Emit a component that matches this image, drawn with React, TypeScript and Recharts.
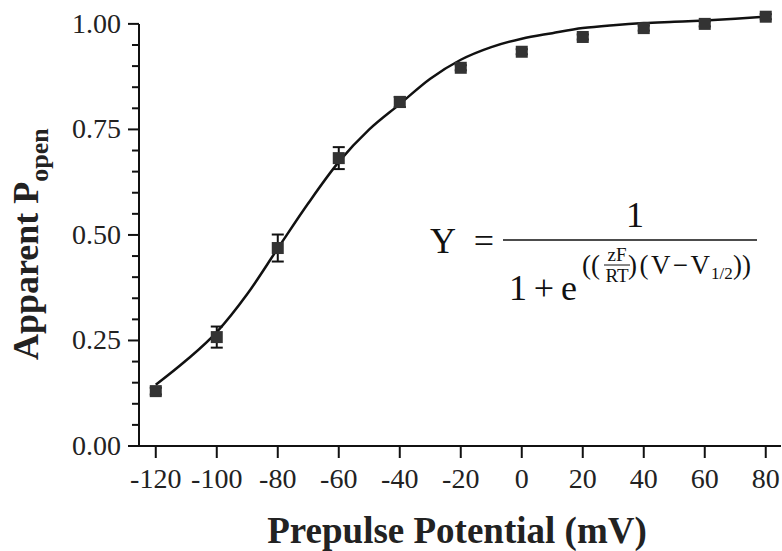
import React from 'react';
import { ComposedChart, Line, Scatter, ErrorBar, XAxis, YAxis, ReferenceLine } from 'recharts';

// measured points (mean +/- error)
const potentials = [-120, -100, -80, -60, -40, -20, 0, 20, 40, 60, 80];
const pOpen = [0.13, 0.258, 0.469, 0.682, 0.815, 0.896, 0.934, 0.969, 0.99, 1.0, 1.017];
const pErr = [0.008, 0.025, 0.032, 0.026, 0.012, 0.006, 0.006, 0.006, 0.006, 0.006, 0.006];

// fitted curve
const fitV = [-120, -110, -100, -90, -80, -70, -60, -50, -40, -30, -20, -10, 0, 10, 20, 30, 40, 50, 60, 70, 80];
const fitP = [0.145, 0.203, 0.27, 0.36, 0.468, 0.575, 0.673, 0.75, 0.81, 0.87, 0.915, 0.945, 0.965, 0.978, 0.99, 0.997, 1.002, 1.005, 1.008, 1.012, 1.017];

const xTicks = [-120, -100, -80, -60, -40, -20, 0, 20, 40, 60, 80];
const yTicks = [0, 0.05, 0.1, 0.15, 0.2, 0.25, 0.3, 0.35, 0.4, 0.45, 0.5, 0.55, 0.6, 0.65, 0.7, 0.75, 0.8, 0.85, 0.9, 0.95, 1.0];

const points = potentials.map((v, i) => ({ v, p: pOpen[i], err: pErr[i] }));
const curve = fitV.map((v, i) => ({ v, p: fitP[i] }));

const SERIF = '"Liberation Serif", "DejaVu Serif", serif';
const Y_AXIS_W = 139;
const X_MIN = -125.5;

const renderYTick = (props: any) => {
	const { y, payload, index } = props;
	const v = payload.value as number;
	const major = Math.abs(v * 4 - Math.round(v * 4)) < 1e-6;
	return (
		<g key={`yt-${index}`}>
			<line x1={Y_AXIS_W - (major ? 11 : 7)} x2={Y_AXIS_W} y1={y} y2={y} stroke='#111' strokeWidth={2} />
			{major && (
				<text x={Y_AXIS_W - 18} y={y} dy={9} textAnchor='end' fontFamily={SERIF} fontSize={28} fill='#222'>
					{v.toFixed(2)}
				</text>
			)}
		</g>
	);
};

const Square = (props: any) => {
	const { cx, cy } = props;
	return <rect x={cx - 6} y={cy - 6} width={12} height={12} fill='#333' />;
};

export default function App() {
	return (
		<div style={{ position: 'absolute', left: 0, top: 0, width: 782, height: 551, background: '#fff' }}>
			<ComposedChart width={782} height={551} margin={{ top: 7, right: 1, left: 0, bottom: 0 }}>
				<XAxis
					dataKey='v'
					type='number'
					domain={[X_MIN, 85]}
					ticks={xTicks}
					height={105}
					tickSize={12}
					tickMargin={10}
					axisLine={{ stroke: '#111', strokeWidth: 2 }}
					tickLine={{ stroke: '#111', strokeWidth: 2 }}
					tick={{ fontFamily: SERIF, fontSize: 28, fill: '#222' }}
					allowDataOverflow
				/>
				<YAxis
					dataKey='p'
					type='number'
					domain={[0, 1.04]}
					ticks={yTicks}
					width={Y_AXIS_W}
					axisLine={false}
					tickLine={false}
					tick={renderYTick}
					interval={0}
					allowDataOverflow
				/>
				<ReferenceLine
					segment={[
						{ x: X_MIN, y: 0 },
						{ x: X_MIN, y: 1 },
					]}
					stroke='#111'
					strokeWidth={2}
				/>
				<Line
					data={curve}
					dataKey='p'
					type='monotone'
					stroke='#111'
					strokeWidth={2.5}
					dot={false}
					activeDot={false}
					isAnimationActive={false}
				/>
				<Scatter data={points} dataKey='p' shape={<Square />} isAnimationActive={false}>
					<ErrorBar dataKey='err' direction='y' width={6} stroke='#111' strokeWidth={2} />
				</Scatter>
			</ComposedChart>
			<svg width={782} height={551} style={{ position: 'absolute', left: 0, top: 0, pointerEvents: 'none' }}>
				<text transform='translate(38, 360) rotate(-90)' fontFamily={SERIF} fontWeight='bold' fontSize={36} fill='#222'>
					Apparent P
					<tspan fontSize={26} dy={10}>
						open
					</tspan>
				</text>
				<text x={457} y={543} textAnchor='middle' fontFamily={SERIF} fontWeight='bold' fontSize={37} fill='#222'>
					Prepulse Potential (mV)
				</text>
				<g fontFamily={SERIF} fill='#111'>
					<text x={430} y={253} fontSize={36} textLength={64} lengthAdjust='spacing'>
						Y =
					</text>
					<line x1={503} x2={757} y1={240} y2={240} stroke='#111' strokeWidth={1.5} />
					<text x={635} y={227} textAnchor='middle' fontSize={36}>
						1
					</text>
					<text x={509} y={300} fontSize={36} textLength={68} lengthAdjust='spacing'>
						1 + e
					</text>
					<text x={582} y={274} fontSize={27}>
						((
					</text>
					<text x={617} y={261} textAnchor='middle' fontSize={19}>
						zF
					</text>
					<line x1={604} x2={630} y1={265} y2={265} stroke='#111' strokeWidth={1} />
					<text x={617} y={282} textAnchor='middle' fontSize={19}>
						RT
					</text>
					<text x={628} y={274} fontSize={27} textLength={82} lengthAdjust='spacing'>
						)(V−V
					</text>
					<text x={711} y={279} fontSize={17}>
						1/2
					</text>
					<text x={733} y={274} fontSize={27}>
						))
					</text>
				</g>
			</svg>
		</div>
	);
}
